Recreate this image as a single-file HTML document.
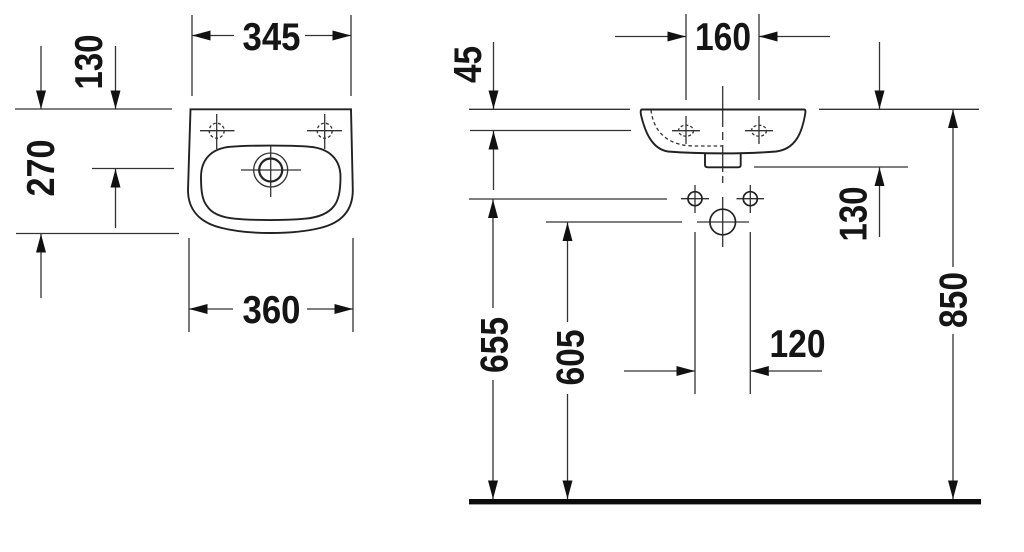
<!DOCTYPE html>
<html><head><meta charset="utf-8"><style>
html,body{margin:0;padding:0;background:#fff;width:1024px;height:552px;overflow:hidden}
svg{display:block}
text{font-family:"Liberation Sans",sans-serif;font-weight:bold;font-size:38.5px;fill:#151515;text-anchor:middle}
.l line,.l path,.l circle,.l ellipse{stroke:#333;stroke-width:1.3;fill:none}
.o path{stroke:#222;stroke-width:1.9;fill:none}
.a line{stroke:#333;stroke-width:1.3;marker-end:url(#ah)}
</style></head><body>
<svg width="1024" height="552" viewBox="0 0 1024 552" xmlns="http://www.w3.org/2000/svg">
<defs><marker id="ah" markerUnits="userSpaceOnUse" markerWidth="19" markerHeight="11" refX="18.5" refY="5" orient="auto"><path d="M0 0L18.5 5L0 10Z" fill="#111"/></marker></defs>
<rect width="1024" height="552" fill="#fff"/>

<!-- extension lines -->
<g class="l">
<line x1="192" y1="15" x2="192" y2="96"/><line x1="351" y1="15" x2="351" y2="96"/>
<line x1="189" y1="238" x2="189" y2="332"/><line x1="353" y1="238" x2="353" y2="332"/>
<line x1="15" y1="109" x2="172" y2="109"/><line x1="92" y1="168.5" x2="174" y2="168.5"/><line x1="16" y1="233.5" x2="179" y2="233.5"/>
<line x1="686" y1="14" x2="686" y2="100"/><line x1="759" y1="14" x2="759" y2="100"/>
<line x1="469" y1="109.3" x2="630" y2="109.3"/><line x1="470" y1="130.5" x2="631" y2="130.5"/>
<line x1="469" y1="199" x2="667" y2="199"/><line x1="546" y1="222" x2="682" y2="222"/>
<line x1="754" y1="167" x2="908" y2="167"/><line x1="819" y1="109.3" x2="979" y2="109.3"/>
<line x1="695" y1="232" x2="695" y2="394"/><line x1="750.3" y1="232" x2="750.3" y2="394"/>

<!-- top view crosshairs -->
<line x1="200" y1="130.7" x2="234.5" y2="130.7"/><line x1="216.7" y1="114" x2="216.7" y2="149"/>
<line x1="307" y1="130.7" x2="342" y2="130.7"/><line x1="324.7" y1="114" x2="324.7" y2="149"/>
<circle cx="216.7" cy="130.7" r="7.5" stroke-dasharray="3 2.2"/><circle cx="324.7" cy="130.7" r="7.5" stroke-dasharray="3 2.2"/>
<line x1="241" y1="170" x2="301" y2="170"/><line x1="270.7" y1="146" x2="270.7" y2="197"/>
<circle cx="270.7" cy="170" r="17"/>

<!-- side view -->
<line x1="722.7" y1="86" x2="722.7" y2="127"/><line x1="722.7" y1="132" x2="722.7" y2="140"/><line x1="722.7" y1="145" x2="722.7" y2="172"/><line x1="722.7" y1="176" x2="722.7" y2="183"/>
<line x1="722.7" y1="197" x2="722.7" y2="247"/>
<line x1="672" y1="130.7" x2="700" y2="130.7"/><line x1="686" y1="116" x2="686" y2="144"/>
<line x1="745" y1="130.7" x2="773" y2="130.7"/><line x1="759" y1="116" x2="759" y2="144"/>
<ellipse cx="686" cy="130.7" rx="7.5" ry="5.5" stroke-dasharray="3 2"/><ellipse cx="759" cy="130.7" rx="7.5" ry="5.5" stroke-dasharray="3 2"/>
<path d="M651 110C653 128 664 146 695 146H722" stroke-dasharray="3.5 2.8"/>
<line x1="681" y1="198.7" x2="709" y2="198.7"/><line x1="695" y1="185" x2="695" y2="213"/>
<line x1="736.5" y1="198.7" x2="764" y2="198.7"/><line x1="750.3" y1="185" x2="750.3" y2="213"/>
<line x1="697" y1="222" x2="749" y2="222"/>
</g>

<g class="o">
<path d="M190.5 109.3H351L352.8 190C352.8 214 337 224 320 228C304 232 286 233 270.5 233C255 233 238 232 222 228C205 224 188 214 188 190Z"/>
<path d="M270 145.6C285 145.6 300 146 310 146.8C330 148.5 340.5 160 340.5 177C340.5 190 339 200 334 206C328 214 318 217.5 305 218.7C285 220.5 255 220.5 235 218.7C222 217.5 212 214 207 206C202 200 201 190 201 177C201 160 211 148.5 230 146.8C240 146 255 145.6 270 145.6Z"/>
<path d="M642 109.5H804C806 109.5 805.5 112 805 115C802 132 796 149 776 151.5C745 154 700 154 668 151.5C652 149 645 132 641 115C640.5 112 640.5 109.5 642 109.5Z"/>
<path d="M705 153V165Q705 167.3 708 167.3H738Q740.7 167.3 740.7 165V153"/>
</g>
<circle cx="270.7" cy="170" r="11.5" fill="none" stroke="#222" stroke-width="2.2"/>
<circle cx="695" cy="198.7" r="7" fill="none" stroke="#222" stroke-width="1.7"/>
<circle cx="750.3" cy="198.7" r="7" fill="none" stroke="#222" stroke-width="1.7"/>
<circle cx="722.7" cy="222" r="12.8" fill="none" stroke="#222" stroke-width="1.7"/>

<!-- base line -->
<rect x="469" y="499" width="512" height="5.4" fill="#0c0c0c"/>

<!-- dimension arrows -->
<g class="a">
<line x1="234" y1="35.5" x2="192" y2="35.5"/><line x1="305" y1="35.5" x2="351" y2="35.5"/>
<line x1="233" y1="309" x2="189" y2="309"/><line x1="307" y1="309" x2="353" y2="309"/>
<line x1="41" y1="46" x2="41" y2="109"/><line x1="115.5" y1="46" x2="115.5" y2="109"/>
<line x1="115.5" y1="228" x2="115.5" y2="169"/><line x1="41" y1="298" x2="41" y2="234"/>
<line x1="615" y1="36.5" x2="686" y2="36.5"/><line x1="830" y1="36.5" x2="759" y2="36.5"/>
<line x1="493.5" y1="42" x2="493.5" y2="109"/>
<line x1="493.5" y1="190" x2="493.5" y2="131"/><line x1="493" y1="308" x2="493" y2="199.5"/>
<line x1="493" y1="380" x2="493" y2="499"/>
<line x1="567.5" y1="322" x2="567.5" y2="222.5"/><line x1="567.5" y1="394" x2="567.5" y2="499"/>
<line x1="624" y1="371" x2="695" y2="371"/><line x1="822" y1="371" x2="750.3" y2="371"/>
<line x1="879.5" y1="42" x2="879.5" y2="109"/><line x1="879.5" y1="237" x2="879.5" y2="167.5"/>
<line x1="953" y1="267" x2="953" y2="109.5"/><line x1="953" y1="334" x2="953" y2="499"/>
</g>

<!-- labels -->
<text x="271.5" y="50" textLength="58" lengthAdjust="spacingAndGlyphs">345</text>
<text x="271.5" y="323" textLength="58" lengthAdjust="spacingAndGlyphs">360</text>
<text x="723" y="50" textLength="56" lengthAdjust="spacingAndGlyphs">160</text>
<text x="797.5" y="357" textLength="56" lengthAdjust="spacingAndGlyphs">120</text>
<text transform="translate(102 62) rotate(-90)" textLength="55" lengthAdjust="spacingAndGlyphs">130</text>
<text transform="translate(54 168) rotate(-90)" textLength="57" lengthAdjust="spacingAndGlyphs">270</text>
<text transform="translate(481 64.5) rotate(-90)" textLength="37" lengthAdjust="spacingAndGlyphs">45</text>
<text transform="translate(507.5 345) rotate(-90)" textLength="56" lengthAdjust="spacingAndGlyphs">655</text>
<text transform="translate(583.5 357.5) rotate(-90)" textLength="56" lengthAdjust="spacingAndGlyphs">605</text>
<text transform="translate(866.5 214) rotate(-90)" textLength="55" lengthAdjust="spacingAndGlyphs">130</text>
<text transform="translate(966.5 300) rotate(-90)" textLength="56" lengthAdjust="spacingAndGlyphs">850</text>
</svg>
</body></html>
